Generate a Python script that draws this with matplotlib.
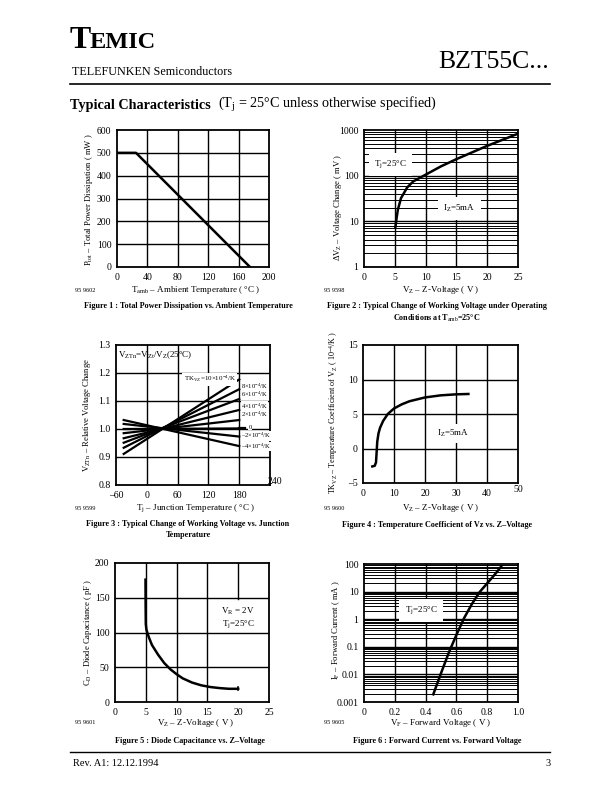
import numpy as np
import matplotlib
matplotlib.use("Agg")
import matplotlib.pyplot as plt

plt.rcParams["font.family"] = ["Liberation Serif", "DejaVu Serif"]
plt.rcParams["mathtext.fontset"] = "custom"
plt.rcParams["mathtext.rm"] = "Liberation Serif"
plt.rcParams["mathtext.it"] = "Liberation Serif:italic"

# ---- data ----
# Figure 1 : Ptot vs Tamb
f1_temp = [0, 25, 175]
f1_power = [500, 500, 0]

# Figure 2 : delta VZ vs VZ
f2_vz = [5.1, 5.3, 5.5, 6, 7, 8, 10, 12.5, 15, 20, 25]
f2_dvz = [7.5, 12, 18, 32, 55, 75, 105, 160, 230, 450, 830]

# Figure 3 : relative voltage change vs Tj (end points of each TK line)
f3_tk = ["10", "8", "6", "4", "2", "0", "-2", "-4"]
f3_t = [-45, 180]
f3_left = [0.911, 0.933, 0.951, 0.967, 0.985, 1.0, 1.018, 1.032]
f3_right = [1.177, 1.142, 1.107, 1.068, 1.032, 1.002, 0.973, 0.939]

# Figure 4 : TK vs VZ
f4_vz = [3.0, 3.8, 4.2, 4.4, 4.6, 5.0, 5.5, 6.5, 8, 10, 12.5, 15, 20, 25, 30, 34]
f4_tk = [-2.6, -2.5, -2.0, -0.5, 1.0, 2.2, 3.0, 4.0, 5.0, 5.8, 6.4, 6.85, 7.4, 7.7, 7.85, 7.9]

# Figure 5 : CD vs VZ
f5_vz = [4.95, 4.97, 5.0, 5.1, 5.5, 6, 7, 8, 9, 10, 11, 12.5, 14, 15.5, 17, 18.5, 20]
f5_cd = [176, 140, 112, 104, 93, 82, 68, 56, 47, 40, 34, 28, 24, 21.5, 20, 19, 19]

# Figure 6 : IF vs VF
f6_vf = [0.45, 0.5, 0.55, 0.6, 0.65, 0.7, 0.75, 0.8, 0.85, 0.89]
f6_if = [0.0019, 0.011, 0.06, 0.27, 1.1, 3.5, 9.5, 20, 42, 80]

W, H = 612, 792
fig = plt.figure(figsize=(W / 100, H / 100), dpi=100)


def add_ax(x0, y0, x1, y1):
    ax = fig.add_axes([x0 / W, 1 - y1 / H, (x1 - x0) / W, (y1 - y0) / H])
    for s in ax.spines.values():
        s.set_linewidth(1.3)
    ax.tick_params(length=0, labelsize=7, pad=4)
    return ax


def ftext(x, y, s, **kw):
    kw.setdefault("fontsize", 6.5)
    kw.setdefault("ha", "center")
    kw.setdefault("va", "center")
    fig.text(x / W, 1 - y / H, s, **kw)


def lin_grid(ax, xs, ys):
    for x in xs:
        ax.axvline(x, color="black", lw=1.0, zorder=1)
    for y in ys:
        ax.axhline(y, color="black", lw=1.0, zorder=1)


def log_grid(ax, xs, lo, hi):
    for x in xs:
        ax.axvline(x, color="black", lw=1.0, zorder=1)
    d = lo
    while d < hi:
        ax.axhline(d, color="black", lw=1.0, zorder=1)
        for m in range(2, 10):
            ax.axhline(d * m, color="black", lw=0.7, zorder=1)
        d *= 10


# ---- header ----
ftext(70, 40, "T", fontsize=23, fontweight="bold", ha="left")
ftext(90, 42, "EMIC", fontsize=17.5, fontweight="bold", ha="left")
ftext(72, 72, "TELEFUNKEN Semiconductors", fontsize=8.7, ha="left")
ftext(549, 62, "BZT55C...", fontsize=18.5, ha="right")
fig.add_artist(plt.Line2D([70 / W, 550 / W], [1 - 84 / H, 1 - 84 / H], color="black", lw=1.2))
ftext(70, 105, "Typical Characteristics", fontsize=10.2, fontweight="bold", ha="left")
ftext(218, 105, "(T$_{\\rm j}$ = 25°C unless otherwise specified)", fontsize=10.2, ha="left")

# ---- Figure 1 ----
ax = add_ax(117, 130, 269, 267)
ax.set_xlim(0, 200)
ax.set_ylim(0, 600)
ax.set_xticks([0, 40, 80, 120, 160, 200])
ax.set_yticks(range(0, 601, 100))
lin_grid(ax, [40, 80, 120, 160], [100, 200, 300, 400, 500])
ax.plot(f1_temp, f1_power, color="black", lw=1.8, zorder=3)
ftext(89, 200, "P$_{\\rm tot}$ – Total Power Dissipation ( mW )", rotation=90, fontsize=6.2)
ftext(196, 290, "T$_{\\rm amb}$ – Ambient Temperature ( °C )")
ftext(85, 290, "95 9602", fontsize=4.5)
ftext(188, 306, "Figure 1 : Total Power Dissipation vs. Ambient Temperature",
      fontsize=5.9, fontweight="bold")

# ---- Figure 2 ----
ax = add_ax(364, 130, 518, 267)
ax.set_yscale("log")
ax.set_xlim(0, 25)
ax.set_ylim(1, 1000)
ax.set_xticks([0, 5, 10, 15, 20, 25])
ax.set_yticks([1, 10, 100, 1000])
ax.set_yticklabels(["1", "10", "100", "1000"])
ax.yaxis.set_minor_locator(matplotlib.ticker.NullLocator())
log_grid(ax, [5, 10, 15, 20], 1, 1000)
ax.plot(f2_vz, f2_dvz, color="black", lw=1.8, zorder=3)
ax.text(4.3, 180, "T$_{\\rm j}$=25°C", fontsize=6.5, ha="center", va="center",
        bbox=dict(facecolor="white", edgecolor="none", pad=4), zorder=2)
ax.text(15.5, 19, "I$_{\\rm Z}$=5mA", fontsize=6.5, ha="center", va="center",
        bbox=dict(facecolor="white", edgecolor="none", pad=4), zorder=2)
ftext(338, 208, "ΔV$_{\\rm Z}$ – Voltage Change ( mV )", rotation=90, fontsize=6.2)
ftext(441, 290, "V$_{\\rm Z}$ – Z-Voltage ( V )")
ftext(334, 291, "95 9598", fontsize=4.5)
ftext(437, 306, "Figure 2 : Typical Change of Working Voltage under Operating",
      fontsize=5.9, fontweight="bold")
ftext(437, 318, "Conditions at T$_{\\rm amb}$=25°C", fontsize=5.9, fontweight="bold")

# ---- Figure 3 ----
ax = add_ax(116, 345, 270, 485)
ax.set_xlim(-60, 240)
ax.set_ylim(0.8, 1.3)
ax.set_xticks([-60, 0, 60, 120, 180, 240])
ax.set_xticklabels(["–60", "0", "60", "120", "180", ""])
ax.set_yticks([0.8, 0.9, 1.0, 1.1, 1.2, 1.3])
ax.set_yticklabels(["0.8", "0.9", "1.0", "1.1", "1.2", "1.3"])
lin_grid(ax, [0, 60, 120, 180], [0.9, 1.0, 1.1, 1.2])
for l, r in zip(f3_left, f3_right):
    ax.plot(f3_t, [l, r], color="black", lw=1.6, zorder=3)
ax.plot([180, 192], [1.002, 1.002], color="black", lw=1.6, zorder=3)
ax.text(-57, 1.265, "V$_{\\rm ZTn}$=V$_{\\rm Zt}$/V$_{\\rm Z}$(25°C)", fontsize=6.5,
        ha="left", va="center", zorder=4)
ax.text(72, 1.178, "TK$_{\\rm VZ}$=10×10$^{-4}$/K", fontsize=5.0, ha="left", va="center",
        bbox=dict(facecolor="white", edgecolor="none", pad=1), zorder=4)
f3_lab_y = [1.154, 1.124, 1.082, 1.051, 1.005, 0.976, 0.937]
for tk, y in zip(f3_tk[1:], f3_lab_y):
    if tk == "0":
        s, x = "0", 198
    else:
        s, x = tk.replace("-", "–") + "×10$^{-4}$/K", 183
    ax.text(x, y, s, fontsize=4.7, ha="left", va="center",
            bbox=dict(facecolor="white", edgecolor="none", pad=0.1), zorder=4)
ftext(275, 481, "240", fontsize=7)
ftext(87, 415, "V$_{\\rm ZTn}$ – Relative Voltage Change", rotation=90, fontsize=6.2)
ftext(196, 508, "T$_{\\rm j}$ – Junction Temperature ( °C )")
ftext(85, 508, "95 9599", fontsize=4.5)
ftext(188, 524, "Figure 3 : Typical Change of Working Voltage vs. Junction",
      fontsize=5.9, fontweight="bold")
ftext(188, 535, "Temperature", fontsize=5.9, fontweight="bold")

# ---- Figure 4 ----
ax = add_ax(363, 345, 518, 483)
ax.set_xlim(0, 50)
ax.set_ylim(-5, 15)
ax.set_xticks([0, 10, 20, 30, 40, 50])
ax.set_xticklabels(["0", "10", "20", "30", "", ""])
ax.set_yticks([-5, 0, 5, 10, 15])
ax.set_yticklabels(["–5", "0", "5", "10", "15"])
lin_grid(ax, [10, 20, 30, 40], [0, 5, 10])
ax.plot(f4_vz, f4_tk, color="black", lw=1.8, zorder=3)
ax.text(29, 2.2, "I$_{\\rm Z}$=5mA", fontsize=6.5, ha="center", va="center",
        bbox=dict(facecolor="white", edgecolor="none", pad=3), zorder=2)
ftext(487, 493, "40", fontsize=7)
ftext(518, 489, "50", fontsize=7)
ftext(334, 412, "TK$_{\\rm VZ}$ – Temperature Coefficient of V$_{\\rm Z}$ ( 10$^{-4}$/K )",
      rotation=90, fontsize=5.9)
ftext(441, 508, "V$_{\\rm Z}$ – Z-Voltage ( V )")
ftext(334, 508, "95 9600", fontsize=4.5)
ftext(437, 525, "Figure 4 : Temperature Coefficient of Vz vs. Z–Voltage",
      fontsize=5.9, fontweight="bold")

# ---- Figure 5 ----
ax = add_ax(115, 563, 269, 702)
ax.set_xlim(0, 25)
ax.set_ylim(0, 200)
ax.set_xticks([0, 5, 10, 15, 20, 25])
ax.set_yticks([0, 50, 100, 150, 200])
lin_grid(ax, [5, 10, 15], [50, 100, 150])
ax.plot([20, 20], [148, 200], color="black", lw=1.0, zorder=1)
ax.plot(f5_vz, f5_cd, color="black", lw=1.8, zorder=3)
ax.plot([20, 20], [17, 21], color="black", lw=1.2, zorder=3)
ax.text(20, 131, "V$_{\\rm R}$ = 2V", fontsize=6.5, ha="center", va="center", zorder=4)
ax.text(20, 112, "T$_{\\rm j}$=25°C", fontsize=6.5, ha="center", va="center", zorder=4)
ftext(88, 632, "C$_{\\rm D}$ – Diode Capacitance ( pF )", rotation=90, fontsize=6.2)
ftext(196, 723, "V$_{\\rm Z}$ – Z-Voltage ( V )")
ftext(85, 723, "95 9601", fontsize=4.5)
ftext(190, 741, "Figure 5 : Diode Capacitance vs. Z–Voltage", fontsize=5.9, fontweight="bold")

# ---- Figure 6 ----
ax = add_ax(364, 564, 518, 702)
ax.set_yscale("log")
ax.set_xlim(0, 1.0)
ax.set_ylim(0.001, 100)
ax.set_xticks([0, 0.2, 0.4, 0.6, 0.8, 1.0])
ax.set_xticklabels(["0", "0.2", "0.4", "0.6", "0.8", "1.0"])
ax.set_yticks([0.001, 0.01, 0.1, 1, 10, 100])
ax.set_yticklabels(["0.001", "0.01", "0.1", "1", "10", "100"])
ax.yaxis.set_minor_locator(matplotlib.ticker.NullLocator())
log_grid(ax, [0.2, 0.4, 0.6, 0.8], 0.001, 100)
ax.plot(f6_vf, f6_if, color="black", lw=1.8, zorder=3)
ax.text(0.37, 2.1, "T$_{\\rm j}$=25°C", fontsize=6.5, ha="center", va="center",
        bbox=dict(facecolor="white", edgecolor="none", pad=4), zorder=2)
ftext(336, 630, "I$_{\\rm F}$ – Forward Current ( mA )", rotation=90, fontsize=6.2)
ftext(441, 723, "V$_{\\rm F}$ – Forward Voltage ( V )")
ftext(334, 723, "95 9605", fontsize=4.5)
ftext(437, 741, "Figure 6 : Forward Current vs. Forward Voltage", fontsize=5.9, fontweight="bold")

# ---- footer ----
fig.add_artist(plt.Line2D([70 / W, 550 / W], [1 - 752 / H, 1 - 752 / H], color="black", lw=1.0))
ftext(73, 763, "Rev. A1: 12.12.1994", fontsize=7.5, ha="left")
ftext(551, 763, "3", fontsize=7.5, ha="right")

fig.savefig("out.png", dpi=100, facecolor="white")
